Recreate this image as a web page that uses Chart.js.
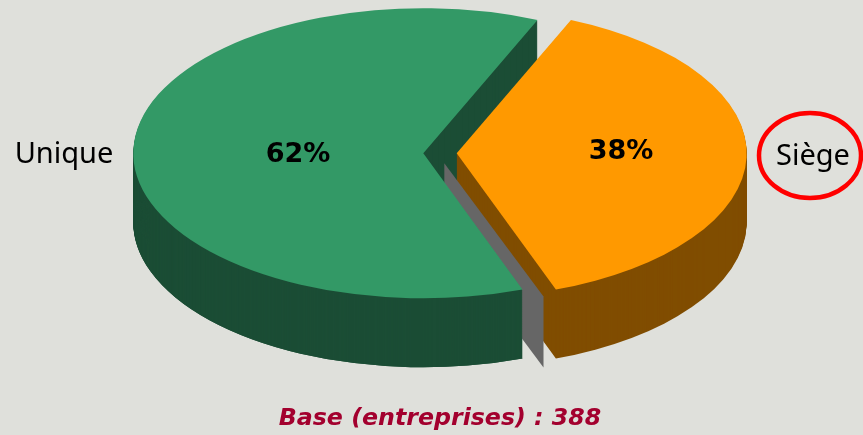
<!DOCTYPE html>
<html lang="fr">
<head>
<meta charset="utf-8">
<title>Base (entreprises) : 388</title>
<script src="https://cdn.jsdelivr.net/npm/chart.js@4"></script>
<style>
    html, body { margin: 0; padding: 0; background: #dfe0db; }
    canvas { display: block; }
</style>
</head>
<body>
<canvas id="myChart" width="863" height="435"></canvas>
<script>
const categories = ["Siège", "Unique"];
const shares = [38, 62];
const baseTitle = "Base (entreprises) : 388";

const topColors = ["#ff9900", "#339966"];
const wallColors = ["#804d00", "#1b4d35"];
const GREY_WALL = "#666666";

// flattening of the pie: radius is 145, width is doubled
const X_STRETCH = 2;
const DEPTH = 69;
const SHIFTS = [{ x: 16.7, y: 0 }, { x: -16.7, y: 0 }];
const NAME_SPOTS = [{ x: 813, y: 157 }, { x: 64, y: 155 }];
const SHARE_SPOTS = [{ x: 621, y: 152 }, { x: 298, y: 155 }];

// draws an arc element flattened and moved down by "down" pixels
function drawSlice(ctx, arc, index, color, down) {
    const saved = arc.options;
    arc.options = { ...saved, backgroundColor: color, borderWidth: 0 };
    ctx.save();
    ctx.translate(arc.x + SHIFTS[index].x, arc.y + SHIFTS[index].y + down);
    ctx.scale(X_STRETCH, 1);
    ctx.translate(-arc.x, -arc.y);
    arc.draw(ctx);
    ctx.restore();
    arc.options = saved;
}

function drawWall(ctx, arc, index) {
    for (let down = DEPTH; down > 0; down--) {
        drawSlice(ctx, arc, index, wallColors[index], down);
    }
}

// the grey strip seen behind the lower cut of the green slice
function drawGreyWall(ctx, arc) {
    const startX = arc.x + SHIFTS[1].x + 21;
    const startY = arc.y + 10;
    const endX = startX + Math.cos(arc.startAngle) * arc.outerRadius * X_STRETCH;
    const endY = startY + Math.sin(arc.startAngle) * arc.outerRadius - 3;
    ctx.save();
    ctx.fillStyle = GREY_WALL;
    ctx.beginPath();
    ctx.moveTo(startX, startY);
    ctx.lineTo(endX, endY);
    ctx.lineTo(endX, endY + DEPTH + 2);
    ctx.lineTo(startX, startY + DEPTH + 2);
    ctx.closePath();
    ctx.fill();
    ctx.restore();
}

const pie3dPlugin = {
    id: "pie3d",
    beforeDatasetsDraw(chart) {
        const { ctx } = chart;
        const [orange, green] = chart.getDatasetMeta(0).data;

        drawWall(ctx, green, 1);
        drawWall(ctx, orange, 0);
        drawGreyWall(ctx, green);

        // front of the green wall goes over the grey strip
        ctx.save();
        ctx.beginPath();
        ctx.rect(0, green.y + 47, chart.width, chart.height);
        ctx.clip();
        drawWall(ctx, green, 1);
        ctx.restore();

        drawSlice(ctx, green, 1, topColors[1], 0);
        drawSlice(ctx, orange, 0, topColors[0], 0);
        return false;
    },
    afterDraw(chart) {
        const { ctx } = chart;
        ctx.save();
        ctx.fillStyle = "#000000";
        ctx.textAlign = "center";
        ctx.textBaseline = "middle";
        categories.forEach((name, i) => {
            ctx.font = '29px "Noto Sans"';
            ctx.fillText(name, NAME_SPOTS[i].x, NAME_SPOTS[i].y);
            ctx.font = 'bold 27px "DejaVu Sans"';
            ctx.fillText(`${shares[i]}%`, SHARE_SPOTS[i].x, SHARE_SPOTS[i].y);
        });
        // red ring around Siège
        ctx.strokeStyle = "#ff0000";
        ctx.lineWidth = 4.5;
        ctx.beginPath();
        ctx.ellipse(810, 155.5, 51, 42.5, 0, 0, Math.PI * 2);
        ctx.stroke();
        ctx.restore();
    },
};

new Chart(document.getElementById("myChart"), {
    type: "pie",
    data: {
        labels: categories,
        datasets: [{ data: shares, backgroundColor: topColors, borderWidth: 0 }],
    },
    options: {
        responsive: false,
        animation: false,
        radius: 145,
        rotation: 23.2,
        layout: { padding: { left: 17 } },
        plugins: {
            legend: { display: false },
            tooltip: { enabled: false },
            title: {
                display: true,
                text: baseTitle,
                position: "bottom",
                color: "#a3002e",
                font: { family: '"DejaVu Sans"', size: 23.7, weight: "bold", style: "italic" },
                padding: { top: 98, bottom: 2 },
            },
        },
    },
    plugins: [pie3dPlugin],
});
</script>
</body>
</html>
